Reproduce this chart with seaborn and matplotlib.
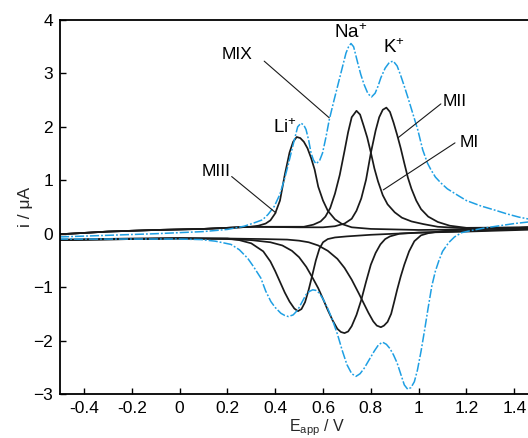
import matplotlib
matplotlib.use("Agg")
import matplotlib.pyplot as plt
import seaborn as sns

# ---------------- data ----------------
# MIII (Li+) : forward and reverse scans
li_fwd_E = [-0.5, -0.3, -0.1, 0.1, 0.2, 0.30, 0.33, 0.36, 0.38, 0.40, 0.42, 0.44, 0.46, 0.475, 0.49, 0.505,
            0.52, 0.535, 0.55, 0.565, 0.58, 0.60, 0.62, 0.65, 0.68, 0.72, 0.80, 1.0, 1.2, 1.5]
li_fwd_i = [-0.01, 0.04, 0.07, 0.09, 0.11, 0.13, 0.15, 0.19, 0.25, 0.38, 0.62, 1.10, 1.52, 1.72, 1.81, 1.79,
            1.72, 1.60, 1.42, 1.20, 0.88, 0.62, 0.43, 0.27, 0.18, 0.12, 0.09, 0.07, 0.08, 0.12]
li_rev_E = [1.5, 1.2, 1.0, 0.8, 0.7, 0.65, 0.62, 0.60, 0.585, 0.57, 0.555, 0.54, 0.525, 0.51, 0.495, 0.48,
            0.46, 0.44, 0.42, 0.40, 0.38, 0.35, 0.30, 0.25, 0.2, 0.0, -0.2, -0.5]
li_rev_i = [0.08, 0.04, 0.02, -0.02, -0.05, -0.07, -0.10, -0.16, -0.28, -0.50, -0.78, -1.05, -1.28, -1.41,
            -1.45, -1.40, -1.27, -1.10, -0.90, -0.70, -0.52, -0.33, -0.18, -0.12, -0.09, -0.09, -0.10, -0.12]

# MI (Na+)
na_fwd_E = [-0.5, -0.3, -0.1, 0.1, 0.2, 0.3, 0.45, 0.52, 0.56, 0.59, 0.61, 0.63, 0.65, 0.67, 0.69, 0.705,
            0.72, 0.74, 0.755, 0.77, 0.785, 0.80, 0.815, 0.83, 0.85, 0.87, 0.90, 0.93, 0.97, 1.02, 1.08,
            1.2, 1.5]
na_fwd_i = [-0.01, 0.04, 0.07, 0.09, 0.11, 0.13, 0.13, 0.13, 0.17, 0.23, 0.32, 0.48, 0.75, 1.10, 1.55, 1.90,
            2.18, 2.30, 2.23, 2.02, 1.80, 1.52, 1.22, 0.98, 0.72, 0.55, 0.40, 0.30, 0.23, 0.18, 0.13,
            0.10, 0.12]
na_rev_E = [1.5, 1.2, 1.0, 0.92, 0.88, 0.86, 0.84, 0.82, 0.80, 0.78, 0.76, 0.74, 0.72, 0.705, 0.69, 0.675,
            0.66, 0.64, 0.62, 0.60, 0.58, 0.557, 0.53, 0.50, 0.47, 0.43, 0.38, 0.30, 0.2, 0.0, -0.2, -0.5]
na_rev_i = [0.10, 0.05, 0.02, 0.0, -0.05, -0.10, -0.20, -0.36, -0.58, -0.90, -1.24, -1.52, -1.73, -1.83,
            -1.86, -1.84, -1.78, -1.62, -1.43, -1.22, -1.02, -0.83, -0.62, -0.44, -0.32, -0.22, -0.16,
            -0.12, -0.10, -0.09, -0.10, -0.12]

# MII (K+)
k_fwd_E = [-0.5, -0.3, -0.1, 0.1, 0.2, 0.3, 0.5, 0.6, 0.65, 0.69, 0.72, 0.74, 0.76, 0.78, 0.80, 0.82, 0.835,
           0.85, 0.865, 0.88, 0.895, 0.91, 0.925, 0.94, 0.955, 0.97, 0.99, 1.01, 1.04, 1.08, 1.13, 1.2, 1.5]
k_fwd_i = [-0.01, 0.04, 0.07, 0.09, 0.11, 0.13, 0.12, 0.12, 0.14, 0.19, 0.28, 0.43, 0.66, 1.01, 1.51, 1.93,
           2.18, 2.32, 2.36, 2.28, 2.08, 1.85, 1.60, 1.32, 1.05, 0.84, 0.62, 0.46, 0.32, 0.22, 0.15, 0.11,
           0.12]
k_rev_E = [1.5, 1.2, 1.1, 1.04, 1.01, 0.982, 0.96, 0.94, 0.925, 0.91, 0.898, 0.885, 0.87, 0.855, 0.842,
           0.825, 0.81, 0.79, 0.77, 0.75, 0.72, 0.69, 0.66, 0.62, 0.58, 0.54, 0.50, 0.45, 0.35, 0.2, 0.0,
           -0.2, -0.5]
k_rev_i = [0.12, 0.08, 0.05, 0.01, -0.03, -0.14, -0.33, -0.58, -0.80, -1.05, -1.27, -1.50, -1.65, -1.72,
           -1.75, -1.72, -1.64, -1.48, -1.30, -1.12, -0.86, -0.64, -0.47, -0.32, -0.22, -0.16, -0.13,
           -0.11, -0.10, -0.09, -0.08, -0.09, -0.11]

# MIX (mixture, blue)
mix_fwd_E = [-0.5, -0.3, -0.1, 0.1, 0.2, 0.27, 0.31, 0.347, 0.37, 0.396, 0.42, 0.438, 0.455, 0.473, 0.494,
             0.508, 0.52, 0.529, 0.54, 0.55, 0.56, 0.57, 0.585, 0.598, 0.612, 0.626, 0.645, 0.661, 0.68,
             0.696, 0.707, 0.717, 0.728, 0.745, 0.758, 0.772, 0.788, 0.803, 0.818, 0.83, 0.842, 0.86,
             0.878, 0.894, 0.91, 0.925, 0.94, 0.955, 0.968, 0.982, 0.996, 1.017, 1.037, 1.051, 1.07,
             1.093, 1.12, 1.163, 1.2, 1.26, 1.32, 1.37, 1.42, 1.5]
mix_fwd_i = [-0.06, -0.03, 0.0, 0.04, 0.08, 0.14, 0.20, 0.26, 0.36, 0.51, 0.74, 1.01, 1.30, 1.63, 2.00,
             2.07, 2.03, 1.95, 1.75, 1.51, 1.38, 1.31, 1.36, 1.51, 1.80, 2.13, 2.48, 2.76, 3.10,
             3.38, 3.50, 3.56, 3.50, 3.20, 2.98, 2.79, 2.62, 2.56, 2.63, 2.76, 2.92, 3.10,
             3.21, 3.23, 3.14, 2.96, 2.76, 2.55, 2.36, 2.15, 1.95, 1.57, 1.32, 1.20, 1.06,
             0.95, 0.84, 0.72, 0.62, 0.52, 0.44, 0.37, 0.31, 0.24]
mix_rev_E = [1.5, 1.46, 1.40, 1.34, 1.28, 1.22, 1.18, 1.15, 1.125, 1.10, 1.085, 1.07, 1.055, 1.04, 1.025,
             1.01, 0.995, 0.982, 0.968, 0.954, 0.94, 0.926, 0.91, 0.895, 0.88, 0.865, 0.849, 0.832, 0.814,
             0.793, 0.772, 0.755, 0.738, 0.72, 0.70, 0.68, 0.661, 0.64, 0.619, 0.60, 0.584, 0.57, 0.557,
             0.543, 0.529, 0.512, 0.494, 0.475, 0.455, 0.44, 0.424, 0.40, 0.382, 0.36, 0.34, 0.31, 0.285,
             0.25, 0.215, 0.15, 0.09, 0.0, -0.2, -0.5]
mix_rev_i = [0.22, 0.22, 0.19, 0.15, 0.11, 0.06, 0.02, -0.06, -0.17, -0.33, -0.50, -0.70, -0.98, -1.38,
             -1.80, -2.20, -2.55, -2.77, -2.88, -2.91, -2.83, -2.64, -2.42, -2.27, -2.15, -2.07, -2.03,
             -2.08, -2.20, -2.36, -2.52, -2.62, -2.67, -2.62, -2.45, -2.18, -1.89, -1.62, -1.39, -1.22,
             -1.11, -1.06, -1.05, -1.08, -1.14, -1.28, -1.43, -1.52, -1.55, -1.53, -1.49, -1.38, -1.27,
             -1.07, -0.83, -0.62, -0.46, -0.30, -0.20, -0.14, -0.11, -0.10, -0.10, -0.10]

x_ticks = [-0.4, -0.2, 0, 0.2, 0.4, 0.6, 0.8, 1, 1.2, 1.4]
x_tick_labels = ["-0.4", "-0.2", "0", "0.2", "0.4", "0.6", "0.8", "1", "1.2", "1.4"]
y_ticks = [-3, -2, -1, 0, 1, 2, 3, 4]

# annotations
curve_labels = ["MIX", "MIII", "MII", "MI"]
label_text_xy = [(0.24, 3.35), (0.152, 1.16), (1.15, 2.47), (1.21, 1.70)]
label_line_from = [(0.354, 3.23), (0.218, 1.07), (1.093, 2.43), (1.152, 1.70)]
label_line_to = [(0.626, 2.17), (0.403, 0.39), (0.915, 1.80), (0.852, 0.82)]
ion_labels = ["Li$^{\\mathregular{+}}$", "Na$^{\\mathregular{+}}$", "K$^{\\mathregular{+}}$"]
ion_xy = [(0.44, 1.98), (0.717, 3.76), (0.897, 3.48)]

# ---------------- style ----------------
sns.set_theme(style="ticks")
plt.rcParams["font.family"] = ["Liberation Sans", "DejaVu Sans"]
plt.rcParams["mathtext.fontset"] = "custom"
plt.rcParams["mathtext.rm"] = "Liberation Sans"
plt.rcParams["mathtext.it"] = "Liberation Sans:italic"

fig = plt.figure(figsize=(5.28, 4.38), dpi=100)
ax = fig.add_axes([60 / 528, 44 / 438, 478.2 / 528, 374 / 438])

black = "#1a1a1a"
blue = "#1e9fe3"

for fE, fi, rE, ri in [(li_fwd_E, li_fwd_i, li_rev_E, li_rev_i),
                       (na_fwd_E, na_fwd_i, na_rev_E, na_rev_i),
                       (k_fwd_E, k_fwd_i, k_rev_E, k_rev_i)]:
    sns.lineplot(x=fE + rE, y=fi + ri, sort=False, estimator=None, ax=ax,
                 color=black, linewidth=1.25)

sns.lineplot(x=mix_fwd_E + mix_rev_E, y=mix_fwd_i + mix_rev_i, sort=False, estimator=None, ax=ax,
             color=blue, linewidth=1.1, linestyle=(0, (6, 1.3, 1.2, 1.3)))

for txt, (tx, ty), (x0, y0), (x1, y1) in zip(curve_labels, label_text_xy, label_line_from, label_line_to):
    ax.text(tx, ty, txt, fontsize=12.5, ha="center", va="center", color="black")
    ax.plot([x0, x1], [y0, y1], color=black, linewidth=0.8)

for txt, (tx, ty) in zip(ion_labels, ion_xy):
    ax.text(tx, ty, txt, fontsize=13.5, ha="center", va="center", color="black")

ax.set_xlim(-0.5, 1.5)
ax.set_ylim(-3, 4)
ax.set_xticks(x_ticks)
ax.set_xticklabels(x_tick_labels)
ax.set_yticks(y_ticks)
ax.tick_params(direction="in", length=4, width=1.0, labelsize=12.5, pad=5, colors="black")
for s in ax.spines.values():
    s.set_linewidth(1.3)
    s.set_color("black")

ax.set_xlabel("E$_{\\mathregular{app}}$ / V", fontsize=11.5)
ax.set_ylabel("i / \u03bcA", fontsize=12.5)
ax.xaxis.set_label_coords((317 - 60) / 478.2, -(437.5 - 394) / 374)
ax.xaxis.label.set_va("bottom")
ax.yaxis.set_label_coords(-27 / 478.2, 0.5)

fig.savefig("out.png", dpi=100)
